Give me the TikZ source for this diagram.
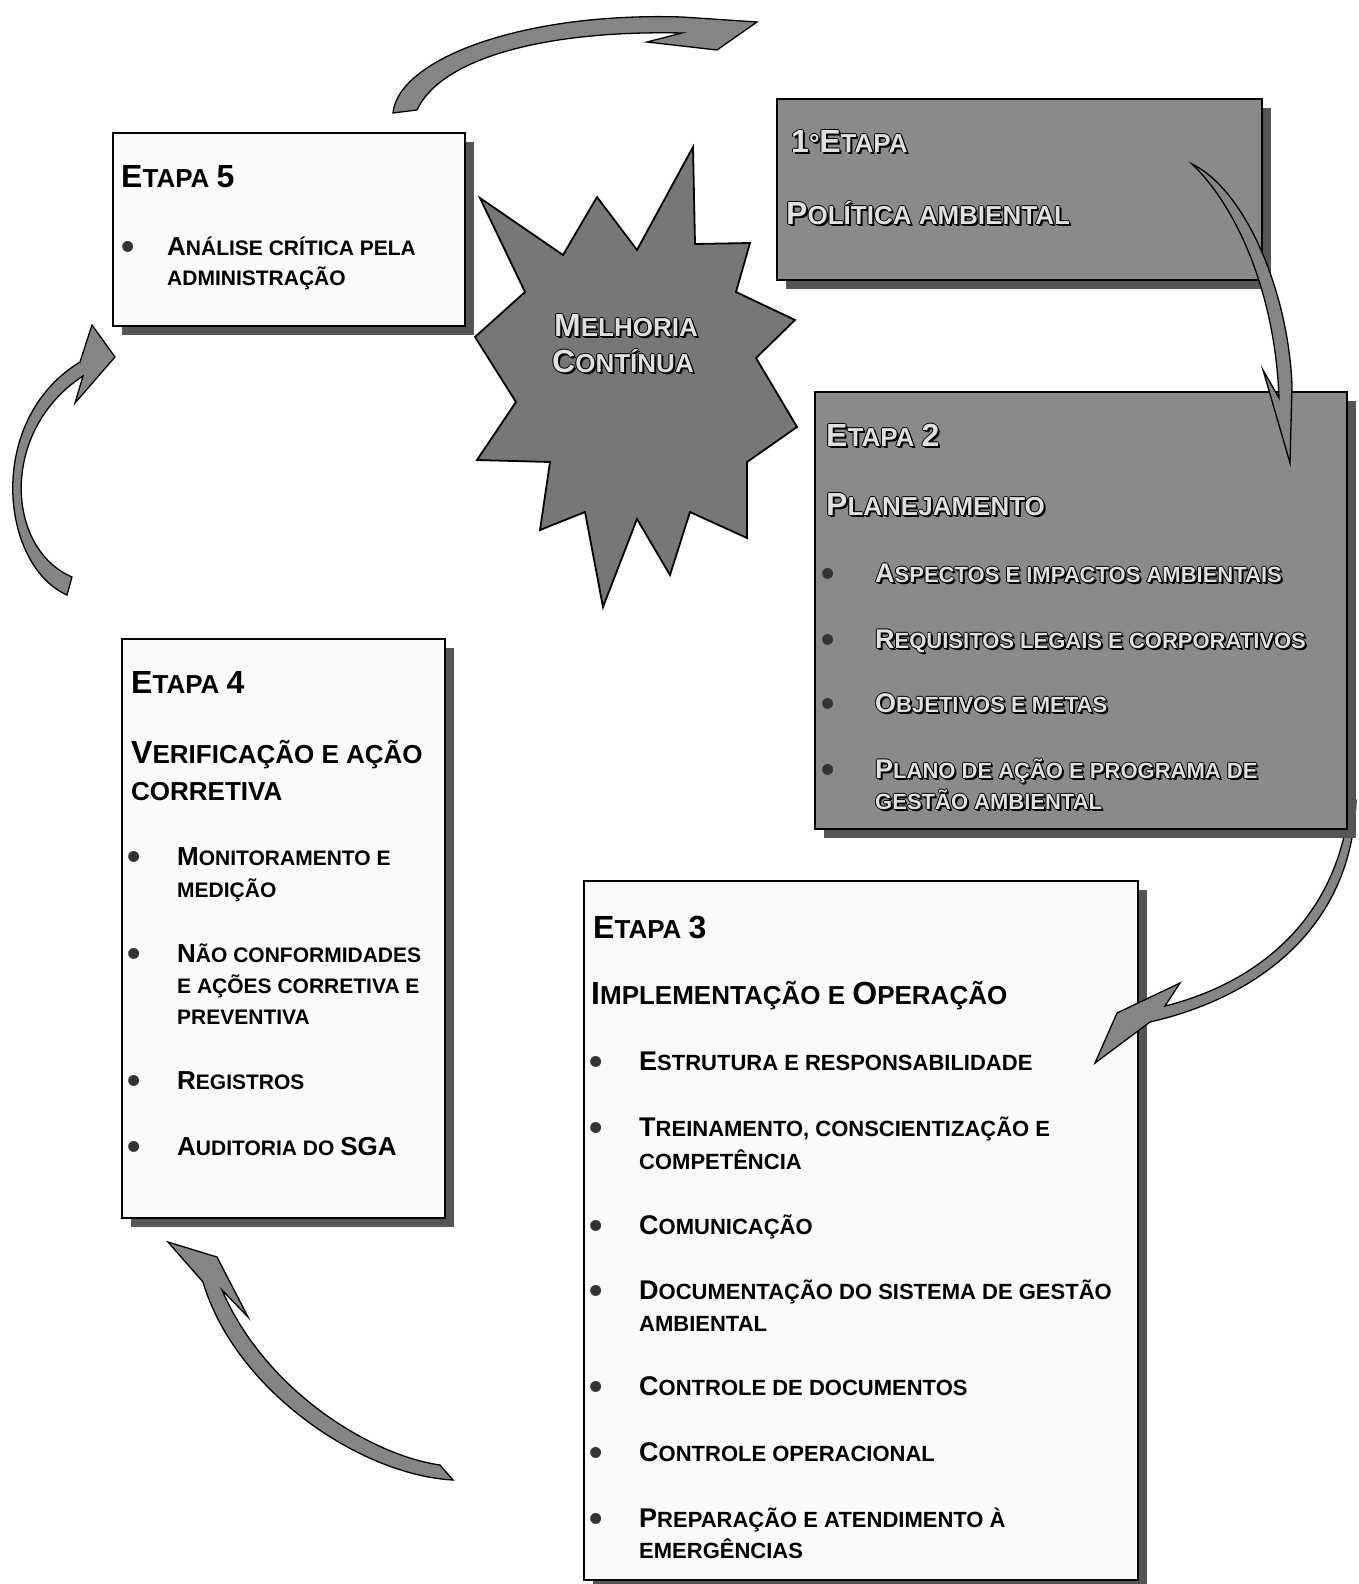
\documentclass[tikz,border=0pt]{standalone}
\usepackage{fontspec}
\setmainfont{Liberation Sans}
\usetikzlibrary{shadows}

% capital letter at the larger size inside small-caps style lines
\def\bigsz{30}
\newcommand\Bg[1]{{\fontsize{\bigsz}{\bigsz}\selectfont #1}}
% light letters with a dark rim and shadow, for the dark panels
\newcommand\emb[1]{%
  \leavevmode
  \rlap{\kern2pt\raisebox{-2pt}{\color{black}#1}}%
  \rlap{\kern-1pt{\color{black}#1}}%
  \rlap{\kern1pt{\color{black}#1}}%
  \rlap{\raisebox{1pt}{\color{black}#1}}%
  \rlap{\raisebox{-1pt}{\color{black}#1}}%
  {\color{white!88!black}#1}}
% bullet followed by a fixed indent
\newcommand\bul[1]{\makebox[#1][l]{\kern-3pt\raisebox{-4.5pt}{\fontsize{38}{38}\selectfont\textcolor{black!80}{\textbullet}}}}

\definecolor{panelgray}{HTML}{8A8A8A}
\definecolor{stargray}{HTML}{777777}
\definecolor{bandgray}{HTML}{858585}
\definecolor{shadowgray}{HTML}{555555}

\begin{document}
\begin{tikzpicture}[x=1pt,y=-1pt,
  lbox/.style={draw=black, line width=2pt, fill=gray!4, inner sep=0pt,
    drop shadow={shadow xshift=9pt, shadow yshift=-9pt, fill=shadowgray, opacity=1}},
  dbox/.style={lbox, fill=panelgray},
  hdr/.style={anchor=base west, inner sep=0pt,
    font={\bfseries\fontsize{26}{30}\selectfont\def\bigsz{32}}},
  itm/.style={anchor=base west, inner sep=0pt,
    font={\bfseries\fontsize{22}{26}\selectfont\def\bigsz{27}}},
  itms/.style={anchor=base west, inner sep=0pt,
    font={\bfseries\fontsize{21}{25}\selectfont\def\bigsz{26}}},
  band/.style={draw=black, line width=1.3pt, fill=bandgray, line join=miter},
  burst/.style={draw=black, line width=1.8pt, fill=stargray, line join=miter}
]
\useasboundingbox (0,0) rectangle (1358,1584);
\fill[white] (0,0) rectangle (1358,1584);

% ---------- step 3 panel and the arrow that reaches it ----------
\node[lbox, minimum width=554pt, minimum height=699pt] (e3) at (861,1230.5) {};

\coordinate (cTail) at (1350,800);
\coordinate (cTip) at (1095,1063);
\draw[band] (cTail) .. controls (1338,925) and (1250,985) .. (1165,1006)
  -- (1180,983) -- (1117,1013) -- (cTip) -- (1150,1022)
  .. controls (1255,998) and (1352,930) .. (1356,800) -- cycle;

% ---------- the other panels ----------
\node[lbox, minimum width=352pt, minimum height=193pt] (e5) at (289,229.5) {};
\node[dbox, minimum width=485pt, minimum height=181pt] (e1) at (1019.5,189.5) {};
\node[dbox, minimum width=532pt, minimum height=437pt] (e2) at (1081,610.5) {};
\node[lbox, minimum width=323pt, minimum height=579pt] (e4) at (283.5,928.5) {};

% ---------- central burst ----------
\draw[burst] (480,198) -- (563,255) -- (597,197) -- (637,250) -- (693,147)
  -- (695,244) -- (750,243) -- (736,292) -- (795,320) -- (756,358)
  -- (797,427) -- (747,462) -- (747,538) -- (690,512) -- (670,575)
  -- (637,519) -- (603,607) -- (585,512) -- (540,530) -- (550,462)
  -- (477,460) -- (516,402) -- (475,337) -- (525,292) -- cycle;
\node[hdr, anchor=base] (mc1) at (626,336) {\emb{\Bg{M}ELHORIA}};
\node[hdr, anchor=base] (mc2) at (623,372) {\emb{\Bg{C}ONTÍNUA}};

% ---------- curved arrows ----------
% step 5 -> step 1
\coordinate (aTail) at (393,113);
\coordinate (aTip) at (757,22);
\draw[band] (aTail) .. controls (398,60) and (520,12) .. (682,17)
  -- (aTip) -- (717,50) -- (647,42) -- (682,33)
  .. controls (540,30) and (440,60) .. (417,110) -- cycle;

% step 1 -> step 2
\coordinate (bTail) at (1192,164);
\coordinate (bTip) at (1290,463);
\draw[band] (bTail) .. controls (1245,190) and (1288,290) .. (1292,385)
  -- (bTip) -- (1263,370) -- (1279,398)
  .. controls (1275,290) and (1235,205) .. (bTail) -- cycle;

% step 3 -> step 4
\coordinate (dTail) at (453,1480);
\coordinate (dTip) at (168,1242);
\draw[band] (dTail) .. controls (360,1475) and (235,1390) .. (203,1282)
  -- (dTip) -- (217,1257) -- (248,1317) -- (222,1290)
  .. controls (265,1390) and (370,1455) .. (440,1465) -- cycle;

% step 4 -> step 5
\coordinate (eTail) at (67,595);
\coordinate (eTip) at (115,357);
\draw[band] (eTail) .. controls (0,565) and (-15,420) .. (80,362)
  -- (92,325) -- (eTip) -- (75,403) -- (83,376)
  .. controls (0,430) and (5,548) .. (72,577) -- cycle;

% ---------- step 5 text ----------
\node[hdr] (e5h) at (121,187) {\Bg{E}TAPA \Bg{5}};
\node[itms] (e5a) at (124,255) {\bul{43pt}\Bg{A}NÁLISE CRÍTICA PELA};
\node[itms] (e5b) at (167,285) {ADMINISTRAÇÃO};

% ---------- step 1 text ----------
\node[hdr] (e1h) at (791,152) {\emb{\Bg{1}°\Bg{E}TAPA}};
\node[hdr] (e1t) at (786,224) {\emb{\Bg{P}OLÍTICA AMBIENTAL}};

% ---------- step 2 text ----------
\node[hdr] (e2h) at (826,446) {\emb{\Bg{E}TAPA \Bg{2}}};
\node[hdr] (e2t) at (826,515) {\emb{\Bg{P}LANEJAMENTO}};
\node[itm] (e2a) at (824,582) {\bul{51pt}\emb{\Bg{A}SPECTOS E IMPACTOS AMBIENTAIS}};
\node[itm] (e2b) at (824,648) {\bul{51pt}\emb{\Bg{R}EQUISITOS LEGAIS E CORPORATIVOS}};
\node[itm] (e2c) at (824,712) {\bul{51pt}\emb{\Bg{O}BJETIVOS E METAS}};
\node[itm] (e2d) at (824,778) {\bul{51pt}\emb{\Bg{P}LANO DE AÇÃO E PROGRAMA DE}};
\node[itm] (e2e) at (875,809) {\emb{GESTÃO AMBIENTAL}};

% ---------- step 4 text ----------
\node[hdr] (e4h) at (131,693) {\Bg{E}TAPA \Bg{4}};
\node[hdr] (e4t) at (131,763) {\Bg{V}ERIFICAÇÃO E AÇÃO};
\node[hdr] (e4u) at (131,800) {CORRETIVA};
\node[itms] (e4a) at (130,865) {\bul{47pt}\Bg{M}ONITORAMENTO E};
\node[itms] (e4a2) at (177,897) {MEDIÇÃO};
\node[itms] (e4b) at (130,962) {\bul{47pt}\Bg{N}ÃO CONFORMIDADES};
\node[itms] (e4b2) at (177,993) {E AÇÕES CORRETIVA E};
\node[itms] (e4b3) at (177,1024) {PREVENTIVA};
\node[itms] (e4c) at (130,1089) {\bul{47pt}\Bg{R}EGISTROS};
\node[itms] (e4d) at (130,1155) {\bul{47pt}\Bg{A}UDITORIA DO \Bg{SGA}};

% ---------- step 3 text ----------
\node[hdr] (e3h) at (593,938) {\Bg{E}TAPA \Bg{3}};
\node[hdr] (e3t) at (591,1004) {\Bg{I}MPLEMENTAÇÃO E \Bg{O}PERAÇÃO};
\node[itm] (e3a) at (592,1070) {\bul{47pt}\Bg{E}STRUTURA E RESPONSABILIDADE};
\node[itm] (e3b) at (592,1136) {\bul{47pt}\Bg{T}REINAMENTO, CONSCIENTIZAÇÃO E};
\node[itm] (e3b2) at (639,1169) {COMPETÊNCIA};
\node[itm] (e3c) at (592,1234) {\bul{47pt}\Bg{C}OMUNICAÇÃO};
\node[itm] (e3d) at (592,1299) {\bul{47pt}\Bg{D}OCUMENTAÇÃO DO SISTEMA DE GESTÃO};
\node[itm] (e3d2) at (639,1331) {AMBIENTAL};
\node[itm] (e3e) at (592,1395) {\bul{47pt}\Bg{C}ONTROLE DE DOCUMENTOS};
\node[itm] (e3f) at (592,1461) {\bul{47pt}\Bg{C}ONTROLE OPERACIONAL};
\node[itm] (e3g) at (592,1527) {\bul{47pt}\Bg{P}REPARAÇÃO E ATENDIMENTO À};
\node[itm] (e3g2) at (639,1558) {EMERGÊNCIAS};
\end{tikzpicture}
\end{document}
